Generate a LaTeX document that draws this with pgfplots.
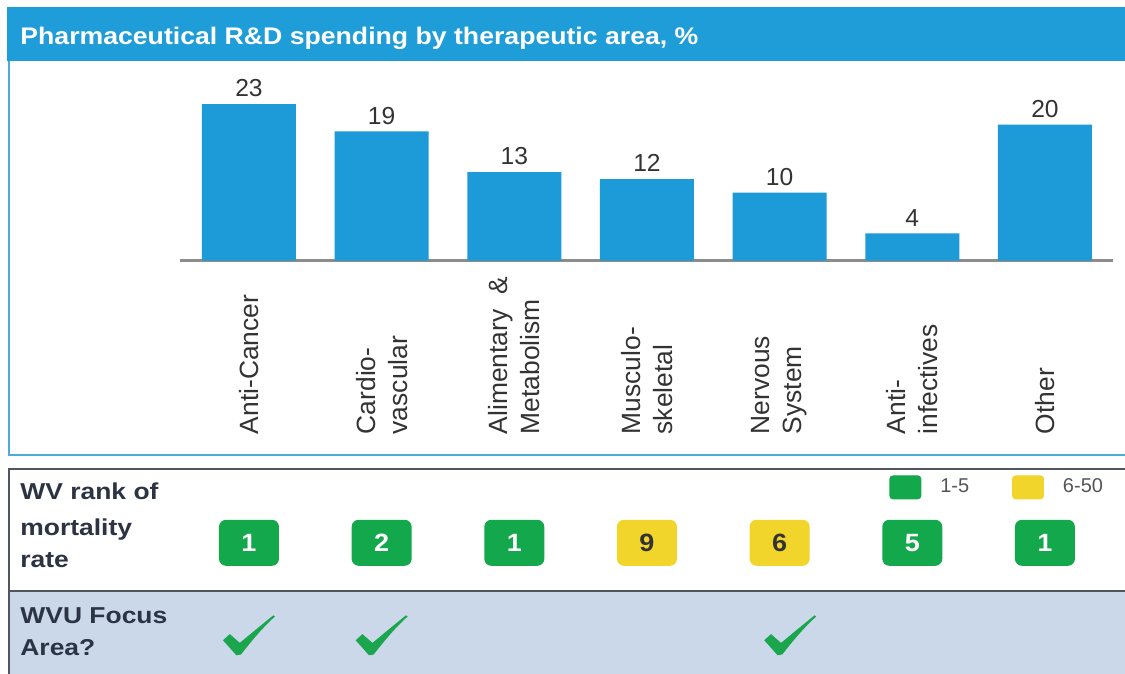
\documentclass[border=0pt]{standalone}
\usepackage{fontspec}
\setmainfont{Liberation Sans}
\newfontfamily\titlefam[FakeStretch=1.11]{Liberation Sans}
\newfontfamily\rowfam[FakeStretch=1.15]{Liberation Sans}
\newfontfamily\badgefam[FakeStretch=1.08]{Liberation Sans}
\usepackage{pgfplots}
\pgfplotsset{compat=1.18}

\definecolor{barblue}{RGB}{28,155,216}
\definecolor{headblue}{RGB}{30,157,216}
\definecolor{lightborder}{RGB}{80,170,215}
\definecolor{axisgray}{RGB}{140,140,140}
\definecolor{textdark}{RGB}{51,51,51}
\definecolor{rowtext}{RGB}{44,52,68}
\definecolor{rankgreen}{RGB}{20,168,76}
\definecolor{rankyellow}{RGB}{242,213,42}
\definecolor{rowfill}{RGB}{202,216,234}
\definecolor{darkborder}{RGB}{80,85,95}
\definecolor{legendgray}{RGB}{85,85,85}
\definecolor{checkgreen}{RGB}{27,166,78}

\pgfdeclareplotmark{badge}{%
  \pgfpathmoveto{\pgfpoint{-11.5pt}{-11.5pt}}%
  \pgfpathlineto{\pgfpoint{11.5pt}{-11.5pt}}%
  \pgfpathcurveto{\pgfpoint{13.43pt}{-11.5pt}}{\pgfpoint{15pt}{-9.93pt}}{\pgfpoint{15pt}{-8pt}}%
  \pgfpathlineto{\pgfpoint{15pt}{8pt}}%
  \pgfpathcurveto{\pgfpoint{15pt}{9.93pt}}{\pgfpoint{13.43pt}{11.5pt}}{\pgfpoint{11.5pt}{11.5pt}}%
  \pgfpathlineto{\pgfpoint{-11.5pt}{11.5pt}}%
  \pgfpathcurveto{\pgfpoint{-13.43pt}{11.5pt}}{\pgfpoint{-15pt}{9.93pt}}{\pgfpoint{-15pt}{8pt}}%
  \pgfpathlineto{\pgfpoint{-15pt}{-8pt}}%
  \pgfpathcurveto{\pgfpoint{-15pt}{-9.93pt}}{\pgfpoint{-13.43pt}{-11.5pt}}{\pgfpoint{-11.5pt}{-11.5pt}}%
  \pgfpathclose
  \pgfusepathqfill}

\pgfdeclareplotmark{chk}{%
  \pgfpathmoveto{\pgfpoint{-13pt}{-2.5pt}}%
  \pgfpathlineto{\pgfpoint{-6.3pt}{-10pt}}%
  \pgfpathlineto{\pgfpoint{-4pt}{-9.6pt}}%
  \pgfpathcurveto{\pgfpoint{2pt}{-2pt}}{\pgfpoint{7pt}{4pt}}{\pgfpoint{13pt}{9.4pt}}%
  \pgfpathlineto{\pgfpoint{12.2pt}{10pt}}%
  \pgfpathcurveto{\pgfpoint{6pt}{5pt}}{\pgfpoint{0pt}{0pt}}{\pgfpoint{-4.6pt}{-3.8pt}}%
  \pgfpathlineto{\pgfpoint{-9.6pt}{0.6pt}}%
  \pgfpathclose
  \pgfusepathqfill}

\begin{document}
\begin{tikzpicture}
\useasboundingbox (0pt,0pt) rectangle (562.5pt,-337pt);
\fill[white] (0pt,0pt) rectangle (562.5pt,-337pt);
% header band
\fill[headblue] (3.5pt,-3.5pt) rectangle (562.5pt,-30.5pt);
\draw[lightborder, line width=1.2pt] (4.5pt,-30.5pt) -- (4.5pt,-227.5pt) -- (562.5pt,-227.5pt);
\node[anchor=base west, inner sep=0pt, text=white, font=\titlefam\bfseries\fontsize{12}{14}\selectfont] at (10pt,-22.3pt) {Pharmaceutical R\&D spending by therapeutic area, \%};
% bottom panel
\fill[rowfill] (4.5pt,-295.3pt) rectangle (562.5pt,-337.5pt);
\draw[darkborder, line width=1pt] (562.5pt,-234.5pt) -- (4.5pt,-234.5pt) -- (4.5pt,-337.5pt);
\draw[darkborder, line width=1pt] (4.5pt,-295.3pt) -- (562.5pt,-295.3pt);
\begin{scope}[every node/.style={anchor=base west, inner sep=0pt, text=rowtext, font=\rowfam\bfseries\fontsize{11.5}{14}\selectfont}]
\node at (10pt,-249.75pt) {WV rank of};
\node at (10pt,-267.75pt) {mortality};
\node at (10pt,-283.5pt) {rate};
\node at (10pt,-311.5pt) {WVU Focus};
\node at (10pt,-327.5pt) {Area?};
\end{scope}

\begin{axis}[
  at={(90pt,-130.3pt)}, anchor=south west,
  scale only axis, width=466.5pt, height=85pt,
  xmin=-0.52, xmax=6.513, ymin=0, ymax=25,
  clip=false,
  axis x line*=bottom, axis y line=none,
  x axis line style={draw=axisgray, line width=1.5pt, -},
  xtick={0,...,6},
  xticklabels={Anti-Cancer, {Cardio-\\vascular}, {Alimentary \ \&\\Metabolism}, {Musculo-\\skeletal}, {Nervous\\System}, {Anti-\\infectives}, Other},
  major tick length=0pt,
  xticklabel shift=87pt,
  xticklabel style={rotate=90, anchor=west, align=left, inner sep=0pt, text=textdark, font=\fontsize{13.2}{16}\selectfont},
  /pgf/number format/assume math mode=true,
  legend columns=2,
  legend cell align=left,
  legend style={at={(0.760,-1.334)}, anchor=west, draw=none, fill=none, inner sep=0pt,
    font=\fontsize{10}{12}\selectfont, text=legendgray,
    /tikz/every odd column/.append style={column sep=7.5pt},
    /tikz/every even column/.append style={column sep=19.5pt}},
]
\addplot[ybar, bar width=47pt, fill=barblue, draw=none, forget plot,
  nodes near coords,
  nodes near coords style={text=textdark, font=\fontsize{12.3}{14}\selectfont}]
  coordinates {(0,23) (1,19) (2,13) (3,12) (4,10) (5,4) (6,20)};

\addplot[only marks, mark=badge, color=rankgreen,
  point meta=explicit,
  nodes near coords, nodes near coords align={center},
  nodes near coords style={text=white, font=\badgefam\bfseries\fontsize{12.5}{14}\selectfont},
  legend image code/.code={\fill[rankgreen, rounded corners=1.5pt] (0pt,-5.75pt) rectangle (15.5pt,5.75pt);}]
  coordinates {(0,-41.5) [1] (1,-41.5) [2] (2,-41.5) [1] (5,-41.5) [5] (6,-41.5) [1]};
\addlegendentry{1-5}

\addplot[only marks, mark=badge, color=rankyellow,
  point meta=explicit,
  nodes near coords, nodes near coords align={center},
  nodes near coords style={text=textdark, font=\badgefam\bfseries\fontsize{12.5}{14}\selectfont},
  legend image code/.code={\fill[rankyellow, rounded corners=1.5pt] (0pt,-5.75pt) rectangle (15.5pt,5.75pt);}]
  coordinates {(3,-41.5) [9] (4,-41.5) [6]};
\addlegendentry{6-50}

\addplot[only marks, mark=chk, color=checkgreen, forget plot]
  coordinates {(0,-55.1) (1,-55.1) (4.08,-55.1)};
\end{axis}
\end{tikzpicture}
\end{document}
